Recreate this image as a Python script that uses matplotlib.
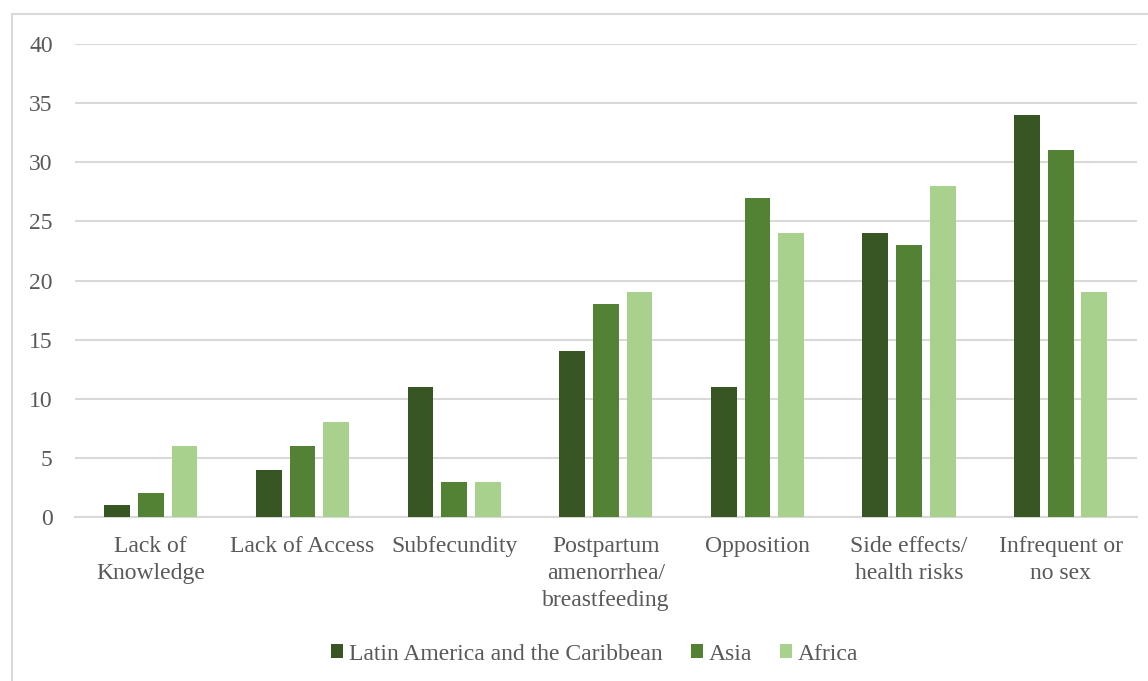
import numpy as np
import matplotlib.pyplot as plt
from matplotlib.patches import Rectangle

categories = ["Lack of\nKnowledge", "Lack of Access", "Subfecundity",
              "Postpartum\namenorrhea/\nbreastfeeding", "Opposition",
              "Side effects/\nhealth risks", "Infrequent or\nno sex"]
series = ["Latin America and the Caribbean", "Asia", "Africa"]
latin_america = [1, 4, 11, 14, 11, 24, 34]
asia = [2, 6, 3, 18, 27, 23, 31]
africa = [6, 8, 3, 19, 24, 28, 19]
colors = ["#375623", "#548235", "#a9d18e"]

plt.rcParams["font.family"] = ["Liberation Serif", "DejaVu Serif"]
text_color = "#595959"

fig = plt.figure(figsize=(11.48, 6.81), dpi=100)
ax = fig.add_axes([0.0653, 0.2408, 0.9247, 0.6946])

fig.patches.append(Rectangle((12 / 1148, -0.1), 1.2, 1 - 14 / 681 + 0.1,
                             transform=fig.transFigure, fill=False,
                             edgecolor="#d9d9d9", linewidth=1.5))

x = np.arange(len(categories))
width = 0.17
step = 0.222
for i, (vals, name) in enumerate(zip([latin_america, asia, africa], series)):
    ax.bar(x + (i - 1) * step, vals, width, color=colors[i], label=name, zorder=3)

ax.set_xlim(-0.5, len(categories) - 0.5)
ax.set_ylim(0, 40)
ax.set_yticks(range(0, 41, 5))
ax.yaxis.grid(True, color="#d9d9d9", linewidth=1.5, zorder=0)
ax.set_xticks(x)
ax.set_xticklabels(categories, fontsize=17, color=text_color, linespacing=1.35)
ax.tick_params(axis="y", labelsize=17, labelcolor=text_color, length=0, pad=16)
ax.tick_params(axis="x", length=0, pad=14)
for side in ["top", "right", "left"]:
    ax.spines[side].set_visible(False)
ax.spines["bottom"].set_color("#d9d9d9")
ax.spines["bottom"].set_linewidth(1.5)

leg = fig.legend(loc="center", bbox_to_anchor=(0.518, 1 - 654 / 681), ncol=3,
                 frameon=False, fontsize=17, handlelength=0.5, handleheight=0.5,
                 handletextpad=0.25, columnspacing=1.2)
for t in leg.get_texts():
    t.set_color(text_color)

fig.savefig("out.png", dpi=100)
